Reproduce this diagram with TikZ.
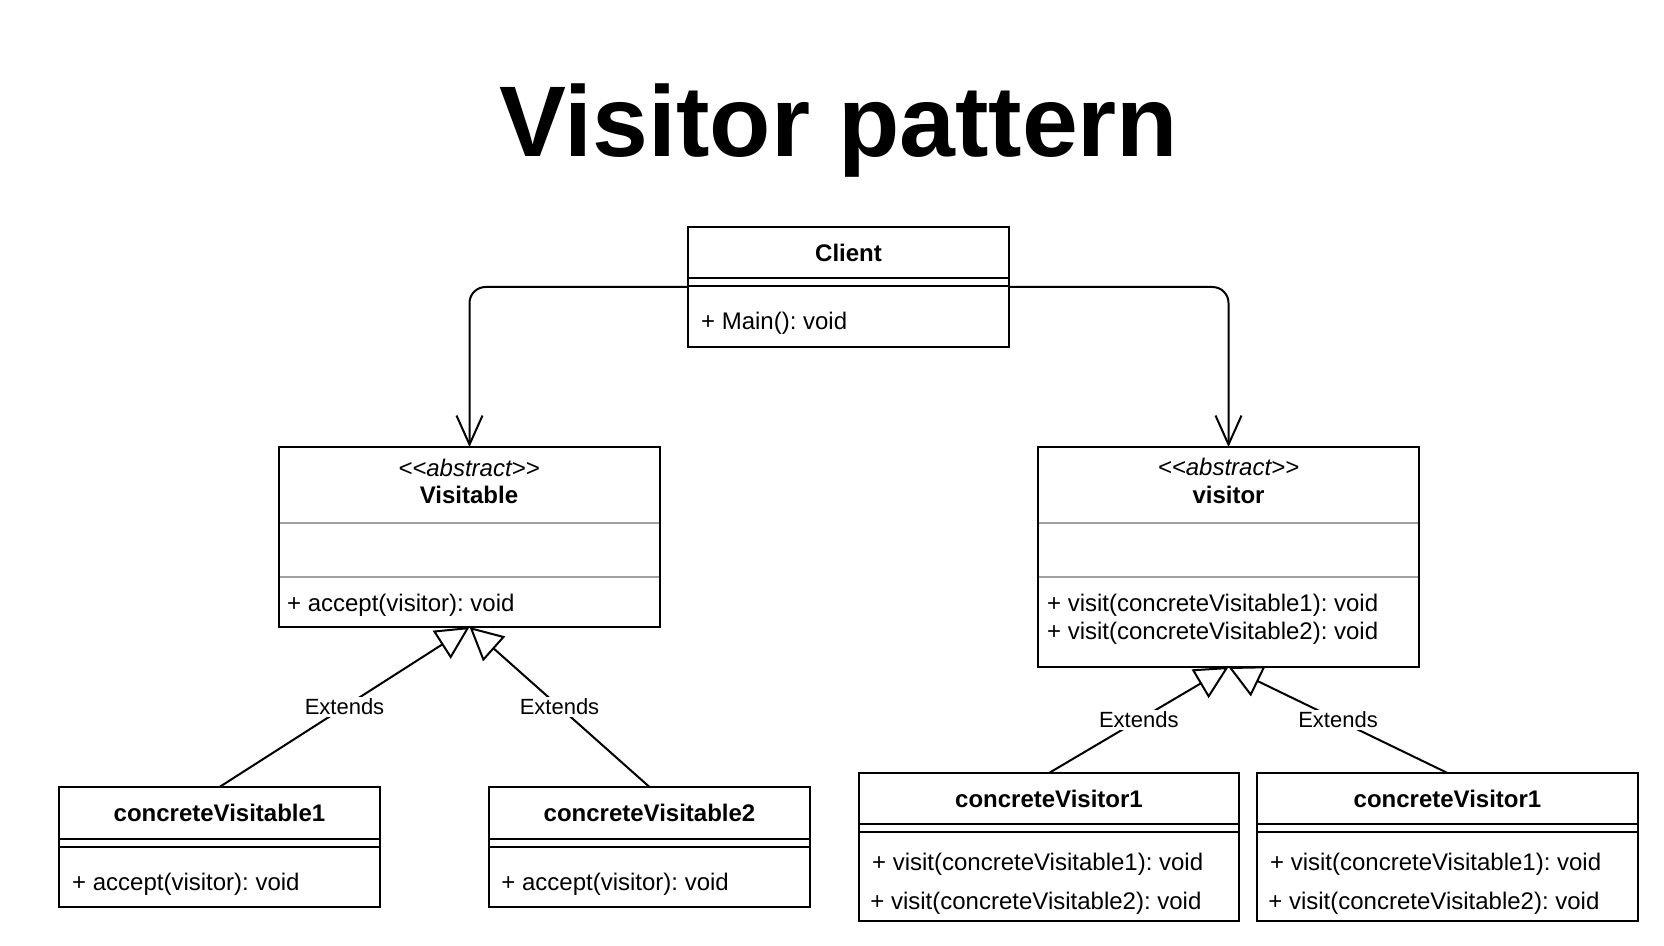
\documentclass[tikz,border=0pt]{standalone}
\usepackage{fontspec}
\setmainfont{Liberation Sans}
\usetikzlibrary{arrows.meta}
\definecolor{divgray}{RGB}{160,160,160}
\frenchspacing
\begin{document}
\begin{tikzpicture}[x=0.5pt,y=-0.5pt,
  classbox/.style={draw=black, line width=1pt, fill=white, inner sep=0pt, outer sep=0pt, anchor=north west},
  divider/.style={draw=black, line width=1pt},
  graydiv/.style={draw=divgray, line width=1pt},
  cname/.style={font=\fontsize{12}{14}\selectfont\bfseries, anchor=base, inner sep=0pt},
  stereo/.style={font=\fontsize{12}{14}\selectfont\itshape, anchor=base, inner sep=0pt},
  member/.style={font=\fontsize{12}{14}\selectfont, anchor=base west, inner sep=0pt},
  assoc/.style={line width=1pt, -{Straight Barb[length=14.5pt,width=13pt]}, rounded corners=8pt},
  ext/.style={line width=1pt, -{Triangle[open,length=16.5pt,width=16.5pt]}},
  elabel/.style={font=\fontsize{11}{13}\selectfont, fill=white, inner sep=1pt, midway},
]
\path[use as bounding box, fill=white] (0,0) rectangle (1664,946);

% title
\node[font=\fontsize{50.2}{57}\selectfont\bfseries, anchor=base, inner sep=0pt] (title) at (839,157) {Visitor pattern};

% boxes
\node[classbox, minimum width=160.5pt, minimum height=60pt] (client) at (688,227) {};
\node[classbox, minimum width=190.5pt, minimum height=90pt] (visitable) at (279,447) {};
\node[classbox, minimum width=190.5pt, minimum height=110pt] (visitorbox) at (1038,447) {};
\node[classbox, minimum width=160.5pt, minimum height=60pt] (cv1) at (59,787) {};
\node[classbox, minimum width=160.5pt, minimum height=60pt] (cv2) at (489,787) {};
\node[classbox, minimum width=190pt, minimum height=74pt] (cvis1) at (859,773) {};
\node[classbox, minimum width=190.5pt, minimum height=74pt] (cvis2) at (1257,773) {};

% dividers
\foreach \b/\o in {client/25.5pt, client/29.5pt, cv1/26pt, cv1/30pt, cv2/26pt, cv2/30pt, cvis1/25.5pt, cvis1/29.5pt, cvis2/25.5pt, cvis2/29.5pt}
  \draw[divider] ([yshift=-\o]\b.north west) -- ([yshift=-\o]\b.north east);
\foreach \b/\o in {visitable/37.85pt, visitable/65pt, visitorbox/37.85pt, visitorbox/64.85pt}
  \draw[graydiv] ([yshift=-\o, xshift=0.5pt]\b.north west) -- ([yshift=-\o, xshift=-0.5pt]\b.north east);

% texts
\node[cname] (clientname) at (848.5,262) {Client};
\node[member] (clientm1) at (700.7,330) {+ Main(): void};

\node[stereo] (visitablest) at (469,476) {<{}<abstract>{}>};
\node[cname] (visitablename) at (469,503.3) {Visitable};
\node[member] (visitablem1) at (286.7,611.7) {+ accept(visitor): void};

\node[stereo] (visitorst) at (1228.5,475) {<{}<abstract>{}>};
\node[cname] (visitorname) at (1228.5,503) {visitor};
\node[member] (visitorm1) at (1046.7,611.7) {+ visit(concreteVisitable1): void};
\node[member] (visitorm2) at (1046.7,639) {+ visit(concreteVisitable2): void};

\node[cname] (cv1name) at (219.5,821.7) {concreteVisitable1};
\node[member] (cv1m1) at (71.8,890) {+ accept(visitor): void};
\node[cname] (cv2name) at (649.5,821.7) {concreteVisitable2};
\node[member] (cv2m1) at (501,890) {+ accept(visitor): void};

\node[cname] (cvis1name) at (1049,807.7) {concreteVisitor1};
\node[member] (cvis1m1) at (871.7,870) {+ visit(concreteVisitable1): void};
\node[member] (cvis1m2) at (870,909.3) {+ visit(concreteVisitable2): void};
\node[cname] (cvis2name) at (1447.5,807.7) {concreteVisitor1};
\node[member] (cvis2m1) at (1269.7,870) {+ visit(concreteVisitable1): void};
\node[member] (cvis2m2) at (1268,909.3) {+ visit(concreteVisitable2): void};

% associations
\draw[assoc] (client.west) -| (visitable.north);
\draw[assoc] (client.east) -| (visitorbox.north);

% generalizations
\draw[ext] (cv1.north) -- node[elabel] {Extends} (visitable.south);
\draw[ext] (cv2.north) -- node[elabel] {Extends} (visitable.south);
\draw[ext] (cvis1.north) -- node[elabel] {Extends} (visitorbox.south);
\draw[ext] (cvis2.north) -- node[elabel] {Extends} (visitorbox.south);
\end{tikzpicture}
\end{document}
